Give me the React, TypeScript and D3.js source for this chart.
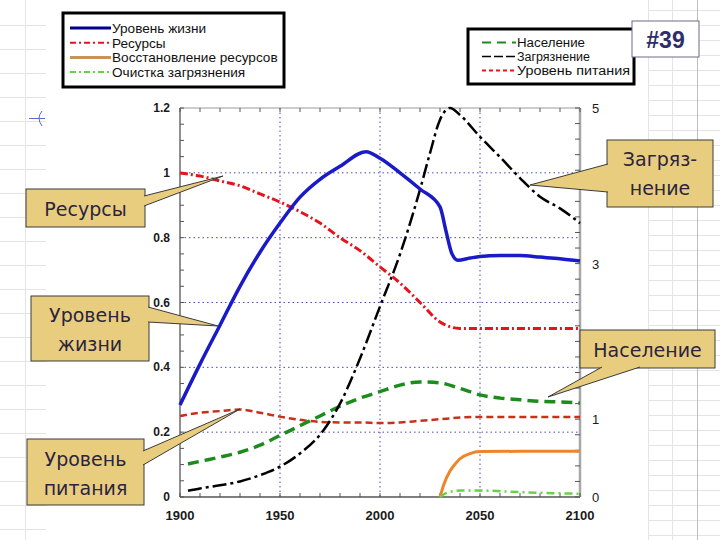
import React from "react";
import * as d3 from "d3";

type P = [number, number];

// ---- data (left axis units unless noted) ----
const livingStandard: P[] = [
  [1900, 0.284], [1910, 0.41], [1920, 0.53], [1930, 0.65], [1940, 0.755], [1950, 0.845],
  [1960, 0.925], [1970, 0.98], [1980, 1.02], [1993, 1.065], [2000, 1.045], [2010, 1.0],
  [2020, 0.95], [2030, 0.895], [2033, 0.82], [2036, 0.75], [2039, 0.73], [2045, 0.737],
  [2050, 0.742], [2060, 0.745], [2070, 0.745], [2080, 0.74], [2090, 0.735], [2100, 0.728],
];
const resources: P[] = [
  [1900, 1.0], [1910, 0.99], [1920, 0.975], [1930, 0.96], [1940, 0.935], [1950, 0.91],
  [1960, 0.88], [1970, 0.845], [1980, 0.8], [1990, 0.76], [2000, 0.71], [2010, 0.66],
  [2020, 0.6], [2030, 0.54], [2035, 0.525], [2040, 0.52], [2060, 0.52], [2080, 0.52], [2100, 0.52],
];
const resourceRecovery: P[] = [
  [2030, 0], [2032, 0.04], [2035, 0.08], [2038, 0.105], [2040, 0.118], [2045, 0.134],
  [2050, 0.14], [2070, 0.141], [2100, 0.141],
];
const pollutionCleanup: P[] = [
  [2030, 0], [2033, 0.012], [2040, 0.02], [2050, 0.02], [2070, 0.015], [2100, 0.01],
];
const population: P[] = [
  [1904, 0.102], [1910, 0.11], [1920, 0.123], [1930, 0.138], [1940, 0.16], [1950, 0.19],
  [1960, 0.22], [1970, 0.25], [1980, 0.28], [1990, 0.305], [2000, 0.325], [2010, 0.345],
  [2020, 0.355], [2030, 0.352], [2040, 0.335], [2050, 0.315], [2060, 0.305], [2070, 0.3],
  [2080, 0.295], [2090, 0.293], [2100, 0.29],
];
// right axis units (0..5)
const pollution: P[] = [
  [1904, 0.08], [1910, 0.11], [1920, 0.15], [1930, 0.2], [1940, 0.28], [1950, 0.39],
  [1960, 0.56], [1970, 0.8], [1980, 1.2], [1990, 1.78], [2000, 2.45], [2010, 3.12],
  [2020, 3.95], [2025, 4.42], [2030, 4.85], [2035, 5.0], [2040, 4.91], [2050, 4.63],
  [2060, 4.37], [2070, 4.1], [2080, 3.86], [2090, 3.71], [2100, 3.52],
];
const nutrition: P[] = [
  [1900, 0.25], [1910, 0.26], [1920, 0.265], [1930, 0.27], [1940, 0.26], [1950, 0.248],
  [1960, 0.238], [1970, 0.232], [1980, 0.23], [1990, 0.23], [2000, 0.228], [2010, 0.23],
  [2020, 0.235], [2030, 0.24], [2040, 0.245], [2050, 0.247], [2075, 0.247], [2100, 0.247],
];

const xTicks = [1900, 1950, 2000, 2050, 2100];
const leftTicks = [0, 0.2, 0.4, 0.6, 0.8, 1, 1.2];
const leftTickLabels = ["0", "0.2", "0.4", "0.6", "0.8", "1", "1.2"];
const rightTickLabels = [0, 1, 3, 5];
const gridX = [1950, 2000, 2050];
const gridY = [0.2, 0.4, 0.6, 0.8, 1.0];

const legend1 = ["Уровень жизни", "Ресурсы", "Восстановление ресурсов", "Очистка загрязнения"];
const legend2 = ["Население", "Загрязнение", "Уровень питания"];

const x = d3.scaleLinear().domain([1900, 2100]).range([180, 580]);
const yL = d3.scaleLinear().domain([0, 1.2]).range([497, 108]);
const yR = d3.scaleLinear().domain([0, 5]).range([497, 108]);

const lineL = d3.line<P>().x((d) => x(d[0])).y((d) => yL(d[1])).curve(d3.curveMonotoneX);
const lineR = d3.line<P>().x((d) => x(d[0])).y((d) => yR(d[1])).curve(d3.curveMonotoneX);

const CALLOUT_FILL = "#E9CD7E";
const CALLOUT_STROKE = "#3a3a3a";
const CALLOUT_TEXT = "#2c2440";
const FONT = "'DejaVu Sans', Verdana, sans-serif";
const AXFONT = "'Liberation Sans', Arial, sans-serif";

function Callout({ box, wedge, lines, ty, fs = 19 }: { box: [number, number, number, number]; wedge: [number, number][]; lines: string[]; ty: number[]; fs?: number }) {
  const [bx, by, bw, bh] = box;
  const pts = wedge.map((p) => p.join(",")).join(" ");
  return (
    <g>
      <rect x={bx} y={by} width={bw} height={bh} fill={CALLOUT_FILL} stroke={CALLOUT_STROKE} strokeWidth={1} />
      <polygon points={pts} fill={CALLOUT_FILL} stroke="none" />
      <polyline points={pts} fill="none" stroke={CALLOUT_STROKE} strokeWidth={1} />
      {lines.map((t, i) => (
        <text key={i} x={bx + bw / 2} y={ty[i]} textAnchor="middle" fontFamily={FONT} fontSize={fs} fill={CALLOUT_TEXT}>
          {t}
        </text>
      ))}
    </g>
  );
}

export default function App() {
  const bgLeft = d3.range(25, 540, 24);
  const bgRight = d3.range(10, 540, 15);
  const leftMinor = d3.range(0, 1.2001, 0.05);
  const rightMinor = d3.range(0, 5.001, 0.2);
  const decade = d3.range(1900, 2101, 10);
  const legend2Widths = [68, 73, 113];

  return (
    <svg width={720} height={540} style={{ position: "absolute", left: 0, top: 0, background: "#fff" }}>
      <rect x={0} y={0} width={720} height={540} fill="#fff" />
      {/* faint background sheet grid */}
      <g stroke="#e4e4e4" strokeWidth={1}>
        {bgLeft.map((v) => (
          <line key={"bl" + v} x1={0} x2={46} y1={v + 0.5} y2={v + 0.5} />
        ))}
        <line x1={25.5} x2={25.5} y1={0} y2={540} />
        {bgRight.map((v) => (
          <line key={"br" + v} x1={648} x2={720} y1={v + 0.5} y2={v + 0.5} />
        ))}
        <line x1={648.5} x2={648.5} y1={0} y2={540} />
        <line x1={672.5} x2={672.5} y1={0} y2={540} />
      </g>
      <line x1={697.5} x2={697.5} y1={0} y2={540} stroke="#bdbdbd" strokeWidth={1} />
      {/* little mark on left */}
      <g stroke="#5a6ad0" strokeWidth={1} fill="none">
        <line x1={29} x2={45} y1={118.5} y2={118.5} />
        <path d="M42,111 Q36,118 42,126" />
      </g>

      {/* grid */}
      <g stroke="#4a4ab8" strokeWidth={1} strokeDasharray="1.5,3">
        {gridX.map((g) => (
          <line key={"gx" + g} x1={x(g)} x2={x(g)} y1={108} y2={497} />
        ))}
        {gridY.map((g) => (
          <line key={"gy" + g} x1={180} x2={580} y1={yL(g)} y2={yL(g)} />
        ))}
      </g>

      {/* frame */}
      <line x1={180} x2={580} y1={108} y2={108} stroke="#9a9a9a" strokeWidth={1} />
      <line x1={180} x2={580} y1={497} y2={497} stroke="#555" strokeWidth={1.3} />
      <line x1={180} x2={180} y1={108} y2={497} stroke="#555" strokeWidth={1.3} />
      <line x1={580} x2={580} y1={108} y2={497} stroke="#a8a8a8" strokeWidth={2.5} />
      <g stroke="#555" strokeWidth={1}>
        {leftMinor.map((v, i) => (
          <line key={"lm" + i} x1={180} x2={184} y1={yL(v)} y2={yL(v)} />
        ))}
        {rightMinor.map((v, i) => (
          <line key={"rm" + i} x1={575} x2={580} y1={yR(v)} y2={yR(v)} />
        ))}
        {decade.map((v) => (
          <g key={"dc" + v}>
            <line x1={x(v)} x2={x(v)} y1={497} y2={493} />
            <line x1={x(v)} x2={x(v)} y1={108} y2={112} />
          </g>
        ))}
      </g>

      {/* axis labels */}
      <g fontFamily={AXFONT} fontSize={12} fill="#1a1a1a" fontWeight="bold">
        {leftTicks.map((v, i) => (
          <text key={"lt" + v} x={170} y={yL(v) + 4} textAnchor="end">
            {leftTickLabels[i]}
          </text>
        ))}
        {rightTickLabels.map((v) => (
          <text key={"rt" + v} x={592} y={yR(v) + 5} textAnchor="start" fontWeight="normal" fontSize={13}>
            {v}
          </text>
        ))}
        {xTicks.map((v) => (
          <text key={"xt" + v} x={x(v)} y={520} textAnchor="middle" fontSize={13}>
            {v}
          </text>
        ))}
      </g>

      {/* series */}
      <g fill="none" strokeLinecap="butt">
        <path d={lineL(nutrition) || ""} stroke="#c8301c" strokeWidth={2.5} strokeDasharray="7,4" />
        <path d={lineL(population) || ""} stroke="#1c8c1c" strokeWidth={3.5} strokeDasharray="11,6" />
        <path d={lineR(pollution) || ""} stroke="#000" strokeWidth={2.5} strokeDasharray="14,4,3,4" />
        <path d={lineL(resources) || ""} stroke="#e4141c" strokeWidth={3} strokeDasharray="8,3,2,3" />
        <path d={lineL(resourceRecovery) || ""} stroke="#f08428" strokeWidth={3} />
        <path d={lineL(pollutionCleanup) || ""} stroke="#66d244" strokeWidth={2.5} strokeDasharray="8,4,2,4" />
        <path d={lineL(livingStandard) || ""} stroke="#1a1ac8" strokeWidth={3.5} strokeLinejoin="round" />
      </g>

      {/* legend 1 */}
      <g>
        <rect x={63} y={13} width={221} height={74} fill="#fff" stroke="#000" strokeWidth={3} />
        {legend1.map((t, i) => {
          const yy = 28 + i * 14.7;
          const styles = [
            { s: "#000090", w: 3, d: "" },
            { s: "#e4141c", w: 2, d: "6,3,2,3" },
            { s: "#c8925a", w: 3, d: "" },
            { s: "#66d244", w: 2, d: "6,3,2,3" },
          ][i];
          return (
            <g key={"l1" + i}>
              <line x1={70} x2={111} y1={yy} y2={yy} stroke={styles.s} strokeWidth={styles.w} strokeDasharray={styles.d} />
              <text x={112} y={yy + 5} fontFamily={AXFONT} fontSize={13.6} fill="#111">
                {t}
              </text>
            </g>
          );
        })}
      </g>

      {/* legend 2 */}
      <g>
        <rect x={468} y={29} width={166} height={55} fill="#fff" stroke="#000" strokeWidth={3} />
        {legend2.map((t, i) => {
          const yy = 42.5 + i * 14;
          const styles = [
            { s: "#1c8c1c", w: 2, d: "9,6" },
            { s: "#000", w: 1.5, d: "9,3" },
            { s: "#e4141c", w: 2, d: "4,3" },
          ][i];
          return (
            <g key={"l2" + i}>
              <line x1={482} x2={516} y1={yy} y2={yy} stroke={styles.s} strokeWidth={styles.w} strokeDasharray={styles.d} />
              <text
                x={517}
                y={yy + 4.5}
                fontFamily={AXFONT}
                fontSize={12.5}
                fill="#111"
                textLength={legend2Widths[i]}
                lengthAdjust="spacingAndGlyphs"
              >
                {t}
              </text>
            </g>
          );
        })}
      </g>

      {/* #39 box */}
      <rect x={632} y={21} width={67} height={36} fill="#fff" stroke="#6a6a8a" strokeWidth={1} />
      <text x={665.5} y={48} textAnchor="middle" fontFamily={AXFONT} fontWeight="bold" fontSize={23} fill="#2e2e68">
        #39
      </text>

      {/* callouts */}
      <Callout box={[26, 189, 119, 38]} wedge={[[144, 196], [223, 176], [144, 206]]} lines={["Ресурсы"]} ty={[216]} />
      <Callout box={[31, 296, 118, 65]} wedge={[[148, 307], [218, 326], [148, 322]]} lines={["Уровень", "жизни"]} ty={[322, 351]} />
      <Callout box={[27, 439, 117, 66]} wedge={[[143, 451], [240, 409], [143, 465]]} lines={["Уровень", "питания"]} ty={[466, 495]} />
      <Callout box={[607, 140, 106, 67]} wedge={[[608, 164], [530, 185], [608, 192]]} lines={["Загряз-", "нение"]} ty={[166, 195]} />
      <Callout box={[580, 330, 135, 38]} wedge={[[602, 367], [548, 397], [640, 367]]} lines={["Население"]} ty={[357]} />
    </svg>
  );
}
